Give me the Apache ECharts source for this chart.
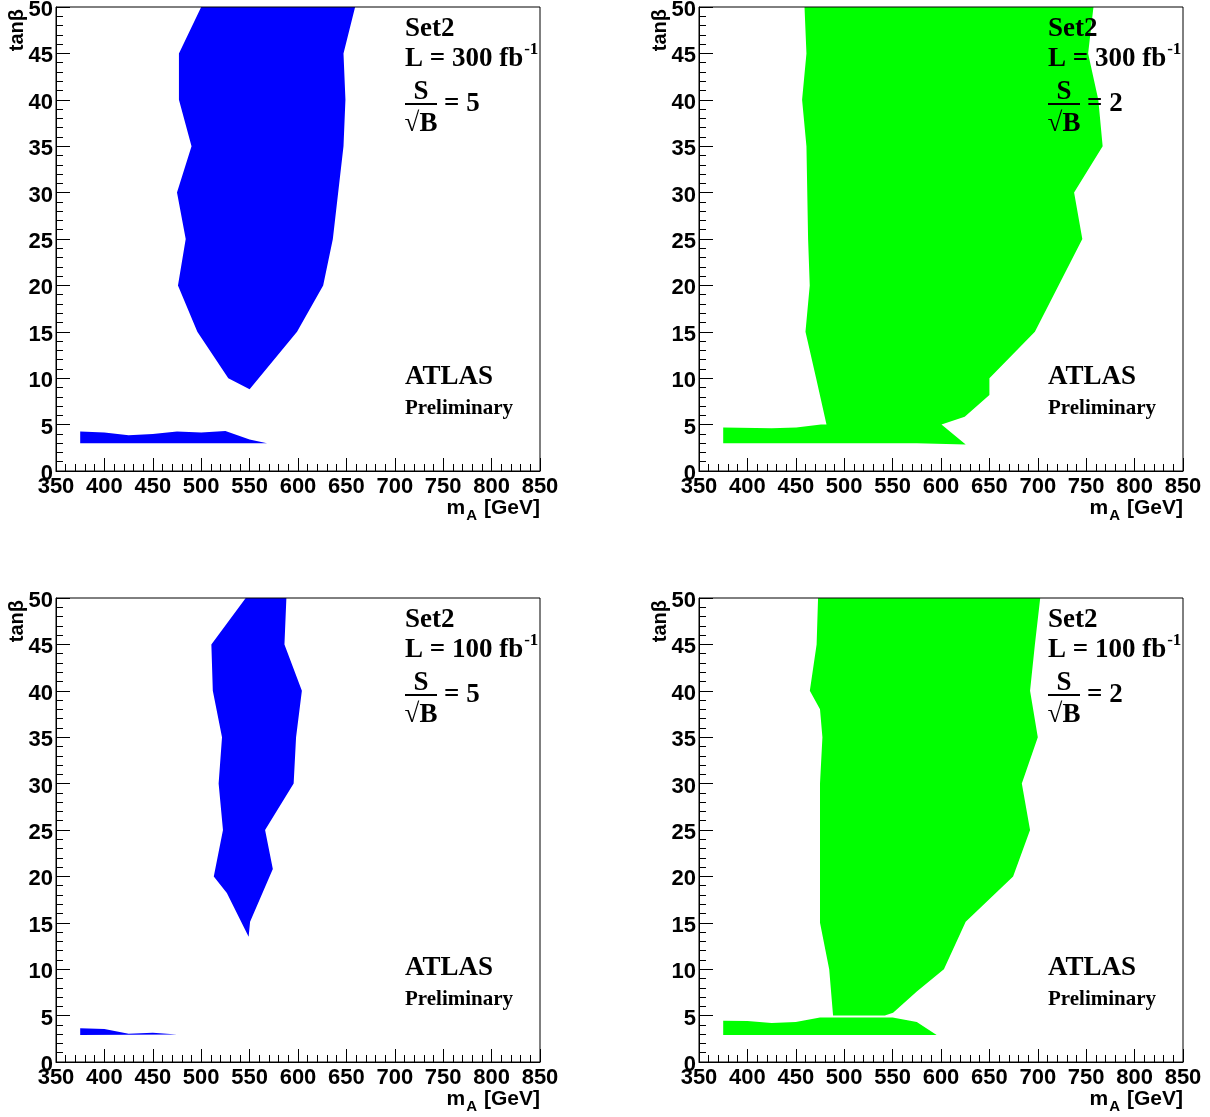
<!DOCTYPE html>
<html><head><meta charset="utf-8">
<script src="https://cdn.jsdelivr.net/npm/echarts@6/dist/echarts.min.js"></script>
<style>html,body{margin:0;padding:0;background:#fff}#c{width:1210px;height:1117px}</style>
</head><body><div id="c"></div>
<script>
// ---- tick labels ----
const xTickLabels = [350,400,450,500,550,600,650,700,750,800,850];
const yTickLabels = [0,5,10,15,20,25,30,35,40,45,50];

// ---- top-left: L = 300 fb-1, S/sqrt(B) = 5 (blue) ----
const tlMain = [[500,50],[477,45],[477,40],[490,35],[475,30],[484,25],[476,20],[496,15],[528,10],[550,8.8],
  [599,15],[626,20],[636,25],[647,35],[649,40],[647,45],[659,50]];
const tlBand = [[375,4.25],[400,4.15],[425,3.85],[450,4.0],[475,4.25],[500,4.15],[525,4.3],[550,3.4],[568,3.0],[375,3.0]];

// ---- top-right: L = 300 fb-1, S/sqrt(B) = 2 (green) ----
const trMain = [[459,50],[461,45],[456.5,40],[461,35],[462.7,25],[464.4,20],[460,15],[471,10],[481.7,5],
  [476,5.0],[450.5,4.7],[425,4.6],[375,4.7],[375,3.0],[575,3.0],[625.5,2.85],[600.5,5.0],[624.5,5.85],
  [650,8.2],[650,10],[697,15],[746,25],[737.5,30],[767,35],[762.5,40],[752,45],[757.5,50]];

// ---- bottom-left: L = 100 fb-1, S/sqrt(B) = 5 (blue) ----
const blMain = [[546,50],[510.5,45],[512,40],[521.5,35],[518,30],[522.5,25],[513,20],[526.5,18.2],[549,13.5],
  [550.5,15.1],[574,20.8],[566,25],[595.5,30],[598,35],[604,40],[586,45],[588,50]];
const blBand = [[375,3.65],[400,3.55],[425,3.05],[450,3.15],[475,2.95],[375,2.9]];

// ---- bottom-right: L = 100 fb-1, S/sqrt(B) = 2 (green) ----
const brMain = [[473,50],[471.5,45],[464.5,40],[475,38],[477.5,35],[475,30],[475,15],[484.5,10],[488.5,5],
  [542,5],[550.5,5.3],[575,7.6],[603,10],[625.5,15.1],[674.5,20],[692,25],[683.5,30],[700,35],[692,40],[697,45],[702.5,50]];
const brBand = [[375,4.45],[400,4.43],[425,4.2],[450,4.3],[475,4.8],[550,4.8],[575,4.3],[595.5,2.9],[375,2.9]];

// ---- panel texts ----
const lumiLabels = ['300','300','100','100'];
const sigLabels = ['5','2','5','2'];

const panels = [
  {grid:{left:56,top:7,width:484,height:464}, polys:[tlMain,tlBand], color:'#0000ff'},
  {grid:{left:699,top:7,width:484,height:464}, polys:[trMain], color:'#00ff00'},
  {grid:{left:56,top:598,width:484,height:464}, polys:[blMain,blBand], color:'#0000ff'},
  {grid:{left:699,top:598,width:484,height:464}, polys:[brMain,brBand], color:'#00ff00'}
];

const SANS = '"Liberation Sans", Arial, sans-serif';
const SERIF = '"Liberation Serif", "Times New Roman", serif';
const mctx = document.createElement('canvas').getContext('2d');
function tw(t, font){ mctx.font = font; return mctx.measureText(t).width; }

const grids = [], xAxes = [], yAxes = [], series = [], graphics = [];
panels.forEach((p, i) => {
  grids.push(Object.assign({show:true, borderColor:'#000', borderWidth:1, z:10, outerBoundsMode:'none', containLabel:false}, p.grid));
  const lab = {color:'#000', fontFamily:SANS, fontWeight:'bold', fontSize:22, showMinLabel:true, showMaxLabel:true};
  xAxes.push({type:'value', gridIndex:i, min:xTickLabels[0], max:xTickLabels[xTickLabels.length-1],
    interval:xTickLabels[1]-xTickLabels[0],
    axisLine:{show:true, onZero:false, lineStyle:{color:'#000', width:1}},
    axisTick:{show:true, inside:true, length:13, lineStyle:{color:'#000', width:1}},
    minorTick:{show:true, splitNumber:5, length:7, lineStyle:{color:'#000', width:1}},
    splitLine:{show:false}, minorSplitLine:{show:false},
    axisLabel:Object.assign({margin:5}, lab)});
  yAxes.push({type:'value', gridIndex:i, min:yTickLabels[0], max:yTickLabels[yTickLabels.length-1],
    interval:yTickLabels[1]-yTickLabels[0],
    axisLine:{show:true, onZero:false, lineStyle:{color:'#000', width:1}},
    axisTick:{show:true, inside:true, length:14, lineStyle:{color:'#000', width:1}},
    minorTick:{show:true, splitNumber:5, length:7, lineStyle:{color:'#000', width:1}},
    splitLine:{show:false}, minorSplitLine:{show:false},
    axisLabel:Object.assign({margin:3, verticalAlign:'top', lineHeight:22, padding:[-8,0,0,0]}, lab)});
  const polys = p.polys;
  series.push({type:'custom', xAxisIndex:i, yAxisIndex:i, z:2, clip:true,
    data: polys.map((poly, k) => [poly[0][0], poly[0][1], k]),
    renderItem: function(params, api){
      const poly = polys[api.value(2)];
      return {type:'polygon', shape:{points: poly.map(pt => api.coord(pt))},
        style:{fill:p.color, stroke:null}};
    }});

  const L = p.grid.left, T = p.grid.top, R = L + p.grid.width, B = T + p.grid.height;
  const Z = 100;
  // axis titles
  graphics.push({type:'text', z:Z, x:L-39, y:T+2, rotation:Math.PI/2,
    style:{text:'tanβ', font:'bold 20px '+SANS, fill:'#000', align:'right', verticalAlign:'middle'}});
  const f21 = 'bold 21px '+SANS;
  const gevW = tw('[GeV]', f21);
  const subW = tw('A', 'bold 15px '+SANS);
  const mW = tw('m', f21);
  const gx = R - gevW;
  graphics.push({type:'text', z:Z, x:gx, y:B+37, style:{text:'[GeV]', font:f21, fill:'#000', align:'left', verticalAlign:'middle'}});
  graphics.push({type:'text', z:Z, x:gx-7-subW, y:B+45, style:{text:'A', font:'bold 15px '+SANS, fill:'#000', align:'left', verticalAlign:'middle'}});
  graphics.push({type:'text', z:Z, x:gx-7-subW-mW-1, y:B+37, style:{text:'m', font:f21, fill:'#000', align:'left', verticalAlign:'middle'}});

  // annotations
  const f27 = 'bold 27px '+SERIF;
  const ax = L + 349;
  graphics.push({type:'text', z:Z, x:ax, y:T+22, style:{text:'Set2', font:f27, fill:'#000', align:'left', verticalAlign:'middle'}});
  const lt = 'L = ' + lumiLabels[i] + ' fb';
  graphics.push({type:'text', z:Z, x:ax, y:T+52, style:{text:lt, font:f27, fill:'#000', align:'left', verticalAlign:'middle'}});
  graphics.push({type:'text', z:Z, x:ax + tw(lt, f27) + 1, y:T+43, style:{text:'-1', font:'bold 17px '+SERIF, fill:'#000', align:'left', verticalAlign:'middle'}});
  graphics.push({type:'text', z:Z, x:ax+16, y:T+85, style:{text:'S', font:f27, fill:'#000', align:'center', verticalAlign:'middle'}});
  graphics.push({type:'line', z:Z, shape:{x1:ax, y1:T+97, x2:ax+32, y2:T+97}, style:{stroke:'#000', lineWidth:2}});
  graphics.push({type:'text', z:Z, x:ax+16, y:T+117, style:{text:'√B', font:f27, fill:'#000', align:'center', verticalAlign:'middle'}});
  graphics.push({type:'text', z:Z, x:ax+39, y:T+97, style:{text:'= ' + sigLabels[i], font:f27, fill:'#000', align:'left', verticalAlign:'middle'}});
  graphics.push({type:'text', z:Z, x:ax, y:T+370, style:{text:'ATLAS', font:'bold 27px '+SERIF, fill:'#000', align:'left', verticalAlign:'middle'}});
  graphics.push({type:'text', z:Z, x:ax, y:T+402, style:{text:'Preliminary', font:'bold 21px '+SERIF, fill:'#000', align:'left', verticalAlign:'middle'}});
});

const chart = echarts.init(document.getElementById('c'), null, {renderer:'canvas'});
chart.setOption({
  animation:false, backgroundColor:'#fff',
  grid:grids, xAxis:xAxes, yAxis:yAxes, series:series,
  graphic:{elements:graphics}
});
</script></body></html>
